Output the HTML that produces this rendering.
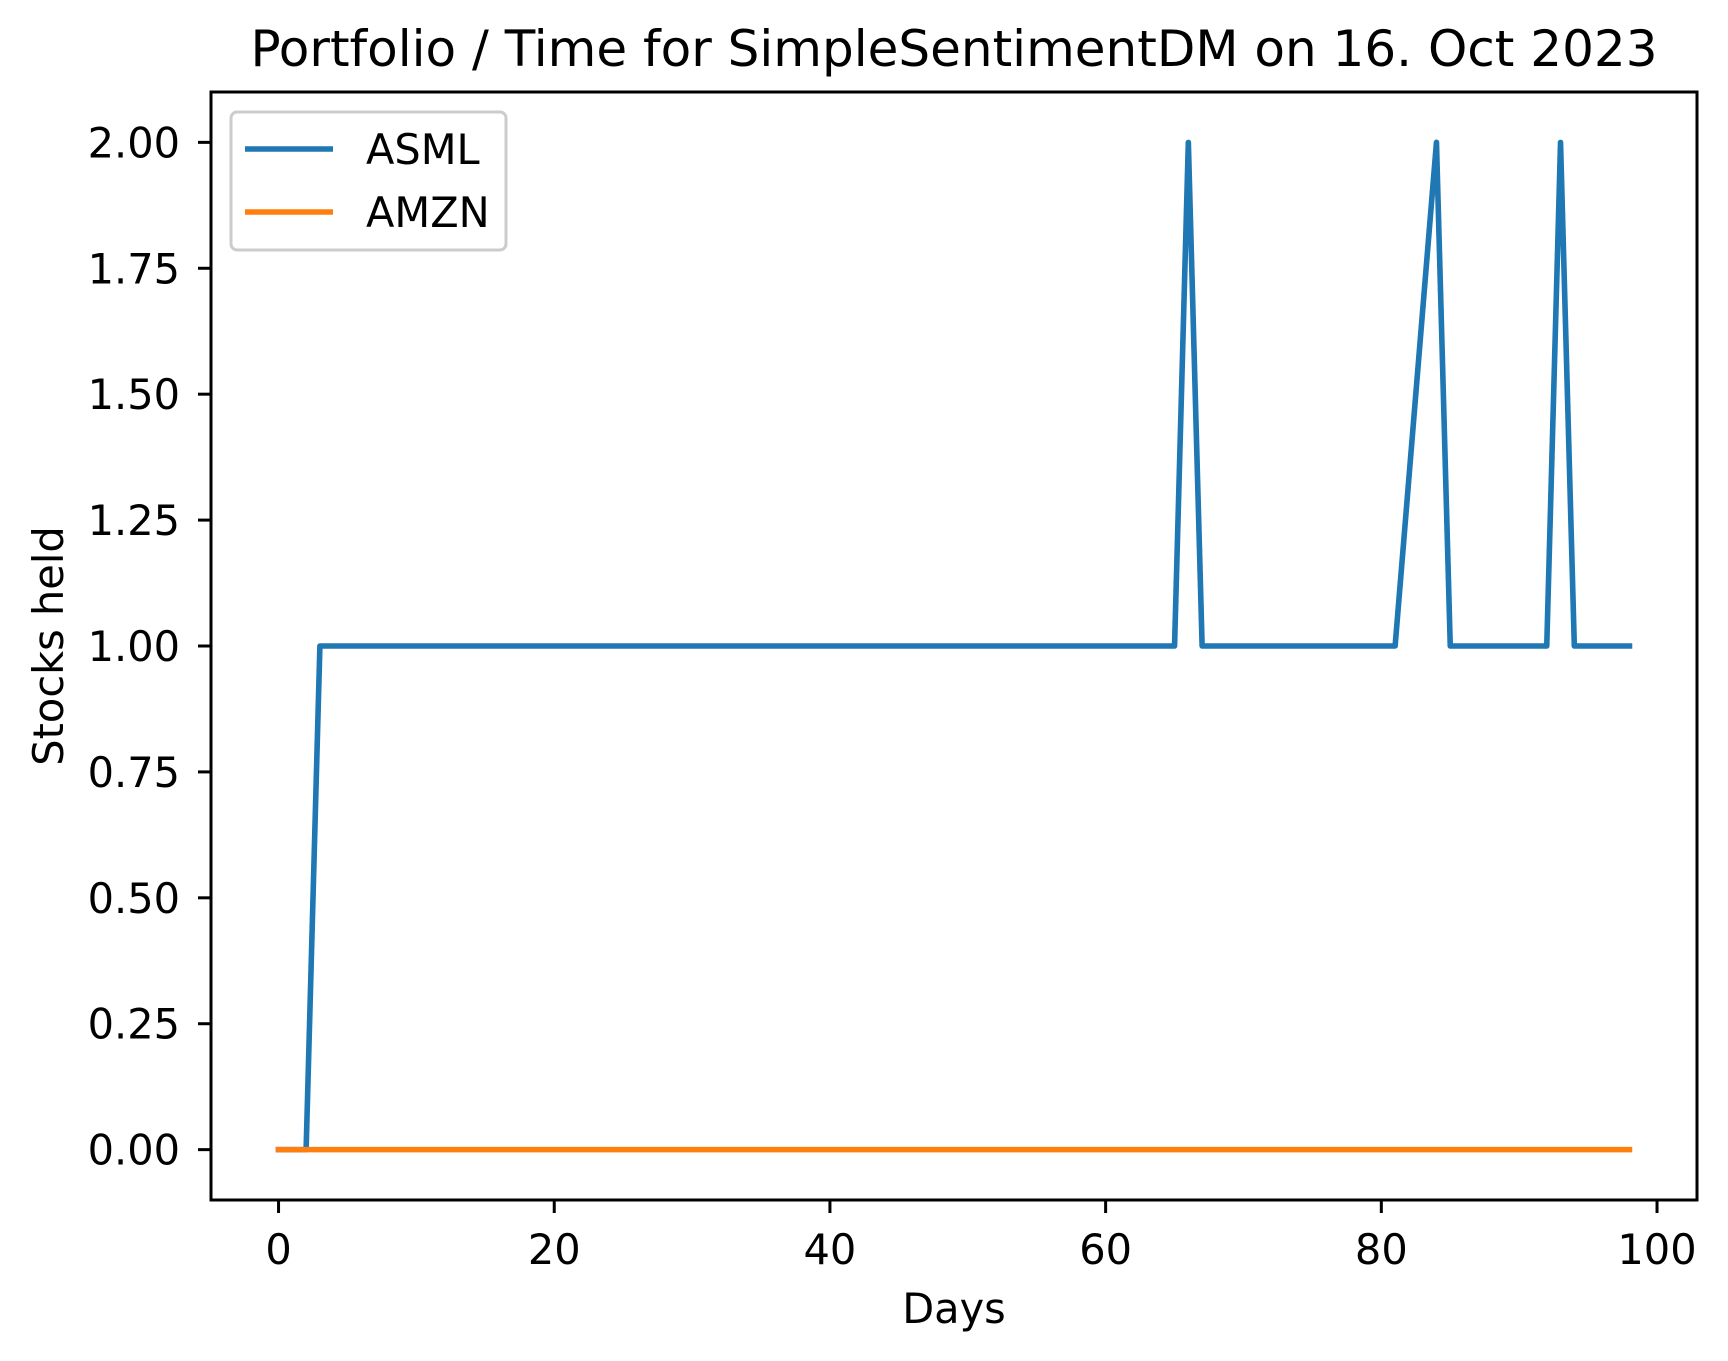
<!DOCTYPE html>
<html><head><meta charset="utf-8"><style>html,body{margin:0;padding:0;background:#fff}svg{display:block}text{font-family:"DejaVu Sans","Liberation Sans",sans-serif;fill:#000}</style></head>
<body>
<svg id="chart" width="1728" height="1361" viewBox="0 0 1728 1361" xmlns="http://www.w3.org/2000/svg"></svg>
<script>
const days = [];
for (let d = 0; d <= 98; d++) days.push(d);
const asmlValues = [0,0,0,1,1,1,1,1,1,1,1,1,1,1,1,1,1,1,1,1,1,1,1,1,1,1,1,1,1,1,1,1,1,1,1,1,1,1,1,1,1,1,1,1,1,1,1,1,1,1,1,1,1,1,1,1,1,1,1,1,1,1,1,1,1,1,2,1,1,1,1,1,1,1,1,1,1,1,1,1,1,1,1.3333,1.6667,2,1,1,1,1,1,1,1,1,2,1,1,1,1,1];
const amznValues = days.map(() => 0);
const xTicks = [0,20,40,60,80,100];
const yTicks = [0,0.25,0.5,0.75,1,1.25,1.5,1.75,2];
const yTickLabels = ["0.00","0.25","0.50","0.75","1.00","1.25","1.50","1.75","2.00"];

const L=211,R=1697,T=92,B=1200;
const xMin=-4.9,xMax=102.9,yMin=-0.1,yMax=2.1;
const sx=v=>L+(v-xMin)/(xMax-xMin)*(R-L);
const sy=v=>B-(v-yMin)/(yMax-yMin)*(B-T);
const svg=document.getElementById('chart');
const NS='http://www.w3.org/2000/svg';
function mk(tag,attrs,parent){const e=document.createElementNS(NS,tag);for(const k in attrs)e.setAttribute(k,attrs[k]);(parent||svg).appendChild(e);return e;}

let t=mk('text',{x:(L+R)/2,y:66,'text-anchor':'middle','font-size':'50'});t.textContent='Portfolio / Time for SimpleSentimentDM on 16. Oct 2023';



function series(vals,color,name){
  const p=mk('polyline',{points:days.map((d,i)=>sx(d)+','+sy(vals[i])).join(' '),fill:'none',stroke:color,'stroke-width':'5.6','stroke-linejoin':'round','stroke-linecap':'square'});
  
  
}
series(asmlValues,'#1f77b4','asml-line');
series(amznValues,'#ff7f0e','amzn-line');

const frame=mk('rect',{x:L,y:T,width:R-L,height:B-T,fill:'none',stroke:'#000','stroke-width':'3'});



xTicks.forEach(v=>{
  const g=mk('g',{});
  
  
  mk('line',{x1:sx(v),x2:sx(v),y1:B,y2:B+13,stroke:'#000','stroke-width':'3'},g);
  const tx=mk('text',{x:sx(v),y:B+64,'text-anchor':'middle','font-size':'41.5'},g);tx.textContent=v;
});
yTicks.forEach((v,i)=>{
  const g=mk('g',{});
  
  
  mk('line',{x1:L-13,x2:L,y1:sy(v),y2:sy(v),stroke:'#000','stroke-width':'3'},g);
  const tx=mk('text',{x:L-31,y:sy(v)+15,'text-anchor':'end','font-size':'41.5'},g);tx.textContent=yTickLabels[i];
});
let xl=mk('text',{x:(L+R)/2,y:1323,'text-anchor':'middle','font-size':'41.5'});xl.textContent='Days';


let yl=mk('text',{x:0,y:0,'text-anchor':'middle','font-size':'41.5',transform:'translate(63,'+((T+B)/2)+') rotate(-90)'});yl.textContent='Stocks held';



const lg=mk('g',{});


mk('rect',{x:231,y:112,width:275,height:138,rx:6,fill:'#fff','fill-opacity':'0.8',stroke:'#ccc','stroke-width':'3'},lg);
[['ASML','#1f77b4',149],['AMZN','#ff7f0e',212]].forEach(([n,c,y])=>{
  const e=mk('g',{},lg);
  
  
  mk('line',{x1:245,x2:333,y1:y,y2:y,stroke:c,'stroke-width':'5.6'},e);
  const tx=mk('text',{x:366,y:y+15,'font-size':'41.5'},e);tx.textContent=n;
});
</script>
</body></html>
